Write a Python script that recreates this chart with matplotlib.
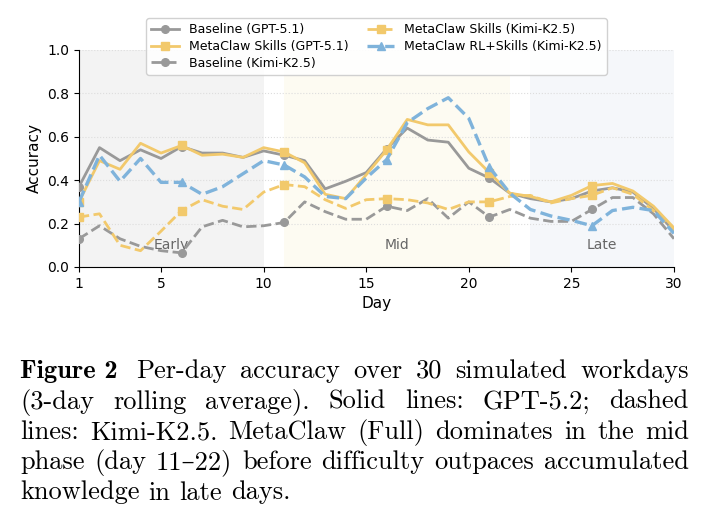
import matplotlib
matplotlib.use("Agg")
import matplotlib.pyplot as plt
import numpy as np

# per-day accuracy (3-day rolling average), days 1..30
days = np.arange(1, 31)
baseline_gpt = [0.37, 0.55, 0.49, 0.54, 0.50, 0.555, 0.525, 0.525, 0.505, 0.535,
                0.515, 0.49, 0.36, 0.395, 0.435, 0.545, 0.64, 0.585, 0.575, 0.455,
                0.41, 0.34, 0.315, 0.30, 0.315, 0.35, 0.365, 0.345, 0.27, 0.165]
skills_gpt = [0.30, 0.49, 0.45, 0.57, 0.525, 0.56, 0.515, 0.52, 0.505, 0.55,
              0.53, 0.48, 0.335, 0.315, 0.425, 0.54, 0.68, 0.655, 0.655, 0.53,
              0.435, 0.34, 0.325, 0.30, 0.33, 0.375, 0.385, 0.35, 0.28, 0.18]
baseline_kimi = [0.13, 0.19, 0.13, 0.095, 0.075, 0.065, 0.185, 0.215, 0.185, 0.19,
                 0.205, 0.30, 0.255, 0.22, 0.22, 0.28, 0.26, 0.315, 0.225, 0.30,
                 0.23, 0.265, 0.225, 0.21, 0.21, 0.265, 0.32, 0.32, 0.245, 0.13]
skills_kimi = [0.23, 0.245, 0.10, 0.075, 0.165, 0.26, 0.31, 0.28, 0.265, 0.345,
               0.38, 0.37, 0.31, 0.27, 0.31, 0.315, 0.31, 0.295, 0.265, 0.30,
               0.30, 0.325, 0.33, 0.295, 0.315, 0.33, 0.365, 0.335, 0.26, 0.165]
rlskills_kimi = [0.30, 0.515, 0.395, 0.50, 0.39, 0.39, 0.335, 0.37, 0.43, 0.49,
                 0.47, 0.415, 0.325, 0.315, 0.41, 0.495, 0.665, 0.73, 0.78, 0.685,
                 0.46, 0.34, 0.265, 0.235, 0.215, 0.19, 0.26, 0.275, 0.26, 0.155]

phases = [("Early", 1, 10), ("Mid", 11, 22), ("Late", 23, 30)]
phase_colors = ["#f3f3f3", "#fdfbf2", "#f5f7fa"]

caption_lines = [
    "Per-day accuracy over 30 simulated workdays",
    "(3-day rolling average).  Solid lines:  GPT-5.2;  dashed",
    "lines: Kimi-K2.5. MetaClaw (Full) dominates in the mid",
    "phase (day 11\u201322) before difficulty outpaces accumulated",
    "knowledge in late days.",
]

GRAY = "#999999"
YELLOW = "#f2c96c"
BLUE = "#7fb3db"

fig = plt.figure(figsize=(7.07, 5.24), dpi=100)
ax = fig.add_axes([0.1117, 0.4905, 0.8416, 0.4141])

for (name, a, b), c in zip(phases, phase_colors):
    ax.axvspan(a, b, color=c, zorder=0, lw=0)
    ax.text((a + b) / 2, 0.1, name, ha="center", va="center", fontsize=10, color="#666666", zorder=1)

ax.grid(axis="y", color="#dddddd", linestyle=":", linewidth=0.8, zorder=0.5)

kw = dict(lw=2, ms=5.5, markevery=5, zorder=3)
dash = (0, (3.7, 1.6))
ax.plot(days, baseline_gpt, color=GRAY, marker="o", label="Baseline (GPT-5.1)", **kw)
ax.plot(days, skills_gpt, color=YELLOW, marker="s", label="MetaClaw Skills (GPT-5.1)", **kw)
ax.plot(days, baseline_kimi, color=GRAY, marker="o", ls=dash, label="Baseline (Kimi-K2.5)", **kw)
ax.plot(days, skills_kimi, color=YELLOW, marker="s", ls=dash, label="MetaClaw Skills (Kimi-K2.5)", **kw)
ax.plot(days, rlskills_kimi, color=BLUE, marker="^", ls=dash, lw=2.4, ms=6, markevery=5, zorder=3,
        label="MetaClaw RL+Skills (Kimi-K2.5)")

ax.set_xlim(1, 30)
ax.set_ylim(0, 1.0)
ax.set_xticks([1, 5, 10, 15, 20, 25, 30])
ax.set_yticks(np.arange(0, 1.01, 0.2))
ax.tick_params(labelsize=10)
ax.set_xlabel("Day", fontsize=11)
ax.set_ylabel("Accuracy", fontsize=11)
ax.spines["top"].set_visible(False)
ax.spines["right"].set_visible(False)

leg = ax.legend(loc="upper center", bbox_to_anchor=(0.5, 1.175), ncol=2, fontsize=9,
                frameon=True, framealpha=0.9, edgecolor="#cccccc", handlelength=2.2,
                columnspacing=1.5, labelspacing=0.3, borderpad=0.4)
leg.set_zorder(5)

# caption, justified between x0 and x1 (pixels)
renderer = fig.canvas.get_renderer()
x0, x1 = 20, 689
size = 19
serif = ["cmr10", "DejaVu Serif"]
baselines = [378, 408.5, 439, 469, 499.5]


def width(s, fam):
    t = fig.text(0, 0, s, family=fam, fontsize=size)
    w = t.get_window_extent(renderer).width
    t.remove()
    return w


H = 524
for i, line in enumerate(caption_lines):
    y = 1 - baselines[i] / H
    start = x0
    if i == 0:
        fig.text(x0 / 707, y, "Figure 2", family="cmb10", fontsize=size, va="baseline")
        start = x0 + width("Figure 2", "cmb10") + 18
    words = line.split()
    ws = [width(w, serif) for w in words]
    if i == len(caption_lines) - 1:
        gap = 9
    else:
        gap = (x1 - start - sum(ws)) / (len(words) - 1)
    x = start
    for w, wd in zip(words, ws):
        fig.text(x / 707, y, w, family=serif, fontsize=size, va="baseline")
        x += wd + gap

fig.savefig("out.png", dpi=100)
